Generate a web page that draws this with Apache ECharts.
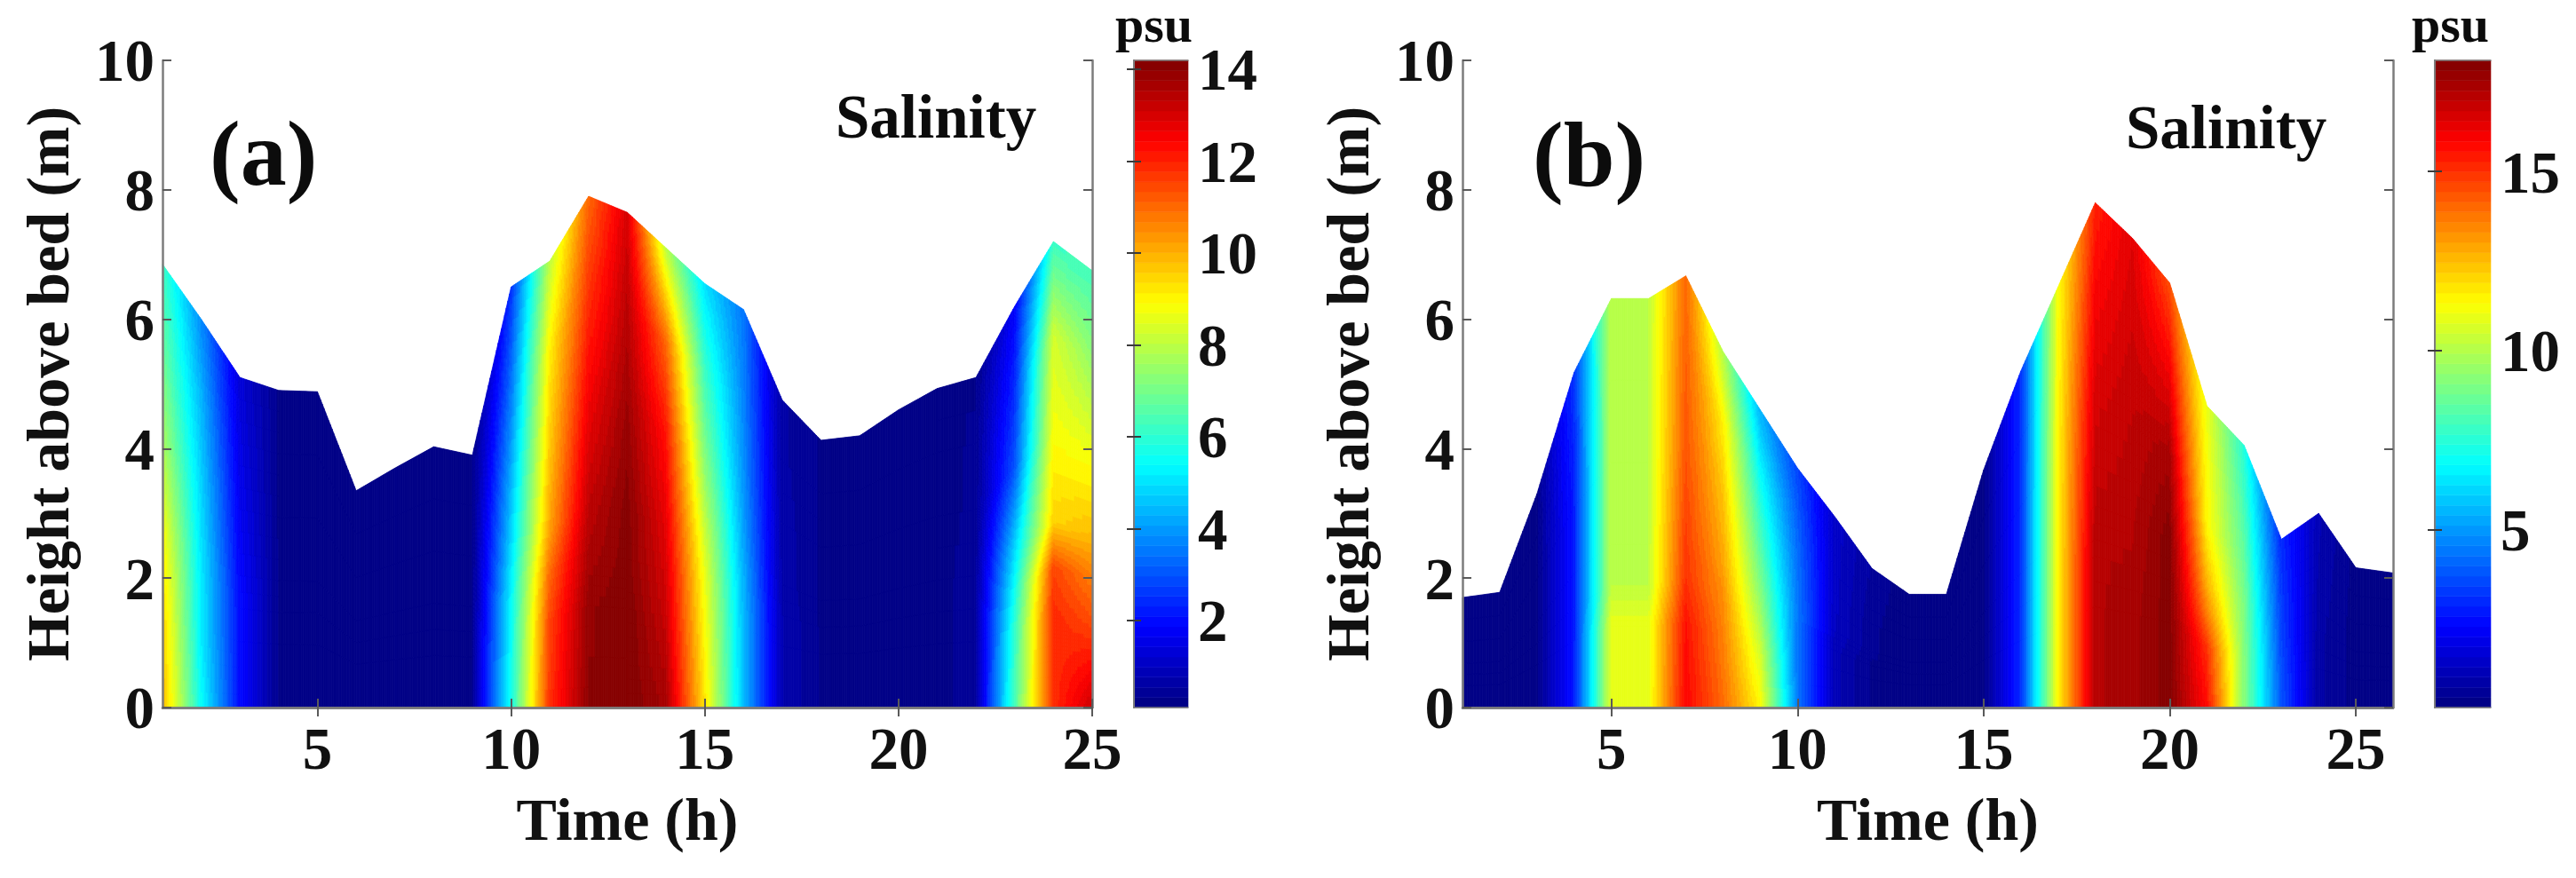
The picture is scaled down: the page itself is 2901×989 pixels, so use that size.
<!DOCTYPE html>
<html><head><meta charset="utf-8">
<style>html,body{margin:0;padding:0;background:#fff}#c{width:2901px;height:989px;filter:blur(0.6px)}</style>
<script src="https://cdn.jsdelivr.net/npm/echarts@6/dist/echarts.min.js"></script>
</head><body><div id="c"></div>
<script>
// Depth fractions of the water column at which salinity is read
const sigmaLevels = [0, 0.2, 0.3, 0.4, 0.6, 0.8, 1];

// Panel (a)
const timeA = [1,2,3,4,5,6,7,8,9,10,11,12,13,14,15,16,17,18,19,20,21,22,23,24,25];
const surfaceA = [6.85,6.0,5.1,4.9,4.88,3.35,3.7,4.03,3.9,6.5,6.9,7.9,7.65,7.1,6.55,6.15,4.75,4.13,4.2,4.6,4.93,5.1,6.2,7.2,6.75];
const salA0  = [10,5.5,2,0.3,0.2,0.2,0.2,0.2,0.3,5.6,11.8,14,14.2,13.7,9.3,4.5,0.8,0.3,0.2,0.2,0.2,0.5,6.4,11.8,13.2];
const salA20 = [9.6,5.2,2,0.3,0.2,0.2,0.2,0.2,0.3,5.4,11.5,13.9,14.2,13.2,8.9,4.5,0.8,0.3,0.2,0.2,0.2,0.5,6,11.9,11.4];
const salA30 = [9.3,5.2,2,0.3,0.2,0.2,0.2,0.2,0.3,5.2,11,13.6,14.1,13,8.7,4.4,0.8,0.3,0.2,0.2,0.2,0.5,5.5,11.5,10.7];
const salA40 = [8.9,5.1,1.9,0.3,0.2,0.2,0.2,0.2,0.3,4.8,10.2,13.3,14.1,12.8,8.3,4.2,0.7,0.3,0.2,0.2,0.2,0.5,4.8,9.5,9.8];
const salA60 = [7.8,4.8,1.7,0.3,0.2,0.2,0.2,0.2,0.3,4.1,9.6,12.6,13.8,12.2,7.2,3.9,0.7,0.3,0.2,0.2,0.2,0.4,3,8.8,8.6];
const salA80 = [6.9,4.4,1.5,0.3,0.2,0.2,0.2,0.2,0.3,3.3,9.1,11.8,13.4,11,6.2,3.7,0.6,0.3,0.2,0.2,0.2,0.4,2.4,8.3,7.4];
const salA100= [6.2,3.8,1.3,0.3,0.2,0.2,0.2,0.2,0.3,2.5,8,11,13,8,5,3.5,0.6,0.3,0.2,0.2,0.2,0.3,1.8,6.2,6.3];

// Panel (b)
const timeB = [1,2,3,4,5,6,7,8,9,10,11,12,13,14,15,16,17,18,19,20,21,22,23,24,25,26];
const surfaceB = [1.7,1.78,3.3,5.18,6.32,6.32,6.67,5.5,4.6,3.7,2.95,2.15,1.75,1.75,3.67,5.2,6.5,7.8,7.25,6.56,4.66,4.05,2.6,3.0,2.16,2.08];
const salB0  = [0.1,0.1,0.2,2.7,10.9,10.9,15.9,14,11.5,4.5,1,0.3,0.1,0.1,0.2,3,11.4,17.2,17.4,18,15.8,9.2,3.8,0.7,0.2,0.1];
const salB20 = [0.1,0.1,0.2,2.7,10.9,10.9,15.6,13.6,10.5,4.4,1,0.3,0.1,0.1,0.2,3,11.4,17.2,17.4,18,15,9.2,3.7,0.7,0.2,0.1];
const salB30 = [0.1,0.1,0.2,2.7,10.2,10.2,15,13.4,9.8,4.4,1,0.3,0.1,0.1,0.2,3,11.4,17.2,17.3,18,13.8,9.1,3.6,0.7,0.2,0.1];
const salB40 = [0.1,0.1,0.2,2.7,10.2,10.2,14.8,13,9.2,4.5,1.2,0.4,0.1,0.1,0.2,3,11.4,17,17.2,18,12.8,9,3.5,0.7,0.2,0.1];
const salB60 = [0.1,0.1,0.2,2.7,10.2,10.2,14.4,12.4,8,4.3,1.3,0.4,0.1,0.1,0.2,3,11.4,16.6,17,17.4,11.5,8.5,3.4,0.8,0.2,0.1];
const salB80 = [0.1,0.1,0.2,2.9,10.2,10.2,14.2,11.6,6.8,4,1.3,0.5,0.1,0.1,0.2,3,11.3,16,16.7,16,11.3,8,3.2,0.9,0.2,0.1];
const salB100= [0.1,0.1,0.2,3.2,10.2,10.2,14,10,5.5,3.5,1.4,0.6,0.1,0.1,0.2,3,11.2,15.3,16.4,14.5,11,7.4,3,1,0.2,0.1];

// Axis ticks
const timeTicksA = [5,10,15,20,25];
const timeTicksB = [5,10,15,20,25];
const heightTicks = [0,2,4,6,8,10];
const barTicksA = [2,4,6,8,10,12,14];
const barTicksB = [5,10,15];
const rangeA = [0.11, 14.19];
const rangeB = [0.05, 18.1];
const colorSteps = 64;

function jet(u){
  const c = x => Math.round(255*Math.max(0,Math.min(1,x)));
  const r = 1.5-Math.abs(4*u-3), g = 1.5-Math.abs(4*u-2), b = 1.5-Math.abs(4*u-1);
  return 'rgb('+c(r)+','+c(g)+','+c(b)+')';
}
function colorOf(v,range){
  let u=(v-range[0])/(range[1]-range[0]);
  u=Math.max(0,Math.min(0.9999,u));
  const k=Math.floor(u*colorSteps);
  return jet((k+0.5)/colorSteps);
}
function meshRenderer(time,surface,rows,range){
  const NX=24, band=(range[1]-range[0])/colorSteps;
  return function(params,api){
    const i=api.value(0), j=api.value(1);
    const t0=time[i],t1=time[i+1],h0=surface[i],h1=surface[i+1];
    const s0=sigmaLevels[j],s1=sigmaLevels[j+1];
    const v00=rows[j][i],v10=rows[j][i+1],v01=rows[j+1][i],v11=rows[j+1][i+1];
    const NY=Math.max(1,Math.min(24,Math.ceil(Math.max(Math.abs(v01-v00),Math.abs(v11-v10))/band*3)));
    const children=[];
    for(let a=0;a<NX;a++){
      const fa=a/NX,fb=(a+1)/NX,fm=(a+.5)/NX;
      const ta=t0+(t1-t0)*fa,tb=t0+(t1-t0)*fb;
      const ha=h0+(h1-h0)*fa,hb=h0+(h1-h0)*fb;
      for(let b=0;b<NY;b++){
        const ga=b/NY,gb=(b+1)/NY,gm=(b+.5)/NY;
        const sa=s0+(s1-s0)*ga,sb=s0+(s1-s0)*gb;
        const v=(v00*(1-fm)+v10*fm)*(1-gm)+(v01*(1-fm)+v11*fm)*gm;
        const col=colorOf(v,range);
        const pts=[api.coord([ta,ha*sa]),api.coord([tb,hb*sa]),api.coord([tb,hb*sb]),api.coord([ta,ha*sb])];
        children.push({type:'polygon',shape:{points:pts},style:{fill:col,stroke:col,lineWidth:0.8},silent:true});
      }
    }
    return {type:'group',children};
  };
}
function barRenderer(range){
  return function(params,api){
    const k=api.value(0);
    const lo=range[0]+(range[1]-range[0])*k/colorSteps, hi=range[0]+(range[1]-range[0])*(k+1)/colorSteps;
    const p0=api.coord([0,lo]),p1=api.coord([1,hi]);
    const col=jet((k+0.5)/colorSteps);
    return {type:'rect',shape:{x:p0[0],y:p1[1],width:p1[0]-p0[0],height:p0[1]-p1[1]},style:{fill:col,stroke:col,lineWidth:0.6},silent:true};
  };
}
function cells(time){
  const d=[];
  for(let i=0;i<time.length-1;i++)for(let j=0;j<sigmaLevels.length-1;j++)d.push([i,j]);
  return d;
}
const barCells=[];for(let k=0;k<colorSteps;k++)barCells.push([k]);

const FONT='"Liberation Serif"', INK='#111', EDGE='#7c7c7c', TICK='#5a5a5a';
const grids=[
  {left:183,top:68,width:1047,height:729},
  {left:1277,top:68,width:61,height:729},
  {left:1647,top:68,width:1048,height:729},
  {left:2742,top:68,width:63,height:729}
];
const lineS={show:true,lineStyle:{color:EDGE,width:2.5}};
const labelS={color:INK,fontFamily:FONT,fontWeight:'bold',fontSize:67};
const nameS={color:INK,fontFamily:FONT,fontWeight:'bold',fontSize:68};
const tickS=(ticks,len)=>({show:true,inside:true,length:len,lineStyle:{color:TICK,width:2},customValues:ticks});
function xAxes(g,min,max,ticks){
  return [
    {type:'value',gridIndex:g,min,max,position:'bottom',z:5,splitLine:{show:false},axisLine:lineS,
     axisTick:tickS(ticks,10),
     axisLabel:{...labelS,margin:18,customValues:ticks},
     name:'Time (h)',nameLocation:'middle',nameGap:97,nameTextStyle:nameS},
    {type:'value',gridIndex:g,min,max,position:'top',z:5,splitLine:{show:false},axisLine:lineS,
     axisTick:tickS(ticks,10),axisLabel:{show:false}}
  ];
}
function yAxes(g){
  return [
    {type:'value',gridIndex:g,min:0,max:10,position:'left',z:5,splitLine:{show:false},axisLine:lineS,
     axisTick:tickS(heightTicks,10),
     axisLabel:{...labelS,margin:9,verticalAlign:'top',lineHeight:12,customValues:heightTicks},
     name:'Height above bed (m)',nameLocation:'middle',nameGap:90,nameRotate:90,nameTextStyle:nameS},
    {type:'value',gridIndex:g,min:0,max:10,position:'right',z:5,splitLine:{show:false},axisLine:lineS,
     axisTick:tickS(heightTicks,10),axisLabel:{show:false}}
  ];
}
function barX(g){
  const one=pos=>({type:'value',gridIndex:g,min:0,max:1,position:pos,z:5,splitLine:{show:false},
    axisLine:{show:true,lineStyle:{color:EDGE,width:1.5}},axisTick:{show:false},axisLabel:{show:false}});
  return [one('bottom'),one('top')];
}
function barY(g,range,ticks){
  const edge={show:true,lineStyle:{color:EDGE,width:2}};
  const t={show:true,inside:true,length:8,lineStyle:{color:'#3a3a3a',width:2},customValues:ticks};
  return [
    {type:'value',gridIndex:g,min:range[0],max:range[1],position:'left',z:5,splitLine:{show:false},
     axisLine:edge,axisTick:t,axisLabel:{show:false}},
    {type:'value',gridIndex:g,min:range[0],max:range[1],position:'right',z:5,splitLine:{show:false},
     axisLine:edge,axisTick:t,axisLabel:{...labelS,margin:11,verticalAlign:'top',lineHeight:12,customValues:ticks}}
  ];
}
const xAxisAll=[...xAxes(0,1,25,timeTicksA),...barX(1),...xAxes(2,1,26,timeTicksB),...barX(3)];
const yAxisAll=[...yAxes(0),...barY(1,rangeA,barTicksA),...yAxes(2),...barY(3,rangeB,barTicksB)];
const rowsA=[salA0,salA20,salA30,salA40,salA60,salA80,salA100];
const rowsB=[salB0,salB20,salB30,salB40,salB60,salB80,salB100];
const tx=(text,left,top,size)=>({text,left,top,padding:0,textStyle:{color:'#0c0c0c',fontFamily:FONT,fontWeight:'bold',fontSize:size}});
const chart=echarts.init(document.getElementById('c'),null,{renderer:'canvas',width:2901,height:989});
chart.setOption({
  backgroundColor:'#fff',animation:false,
  title:[
    tx('(a)',236,129,104),tx('Salinity',941,103,69),tx('psu',1256,3,58),
    tx('(b)',1726,130,104),tx('Salinity',2394,115,69),tx('psu',2716,3,58)
  ],
  grid:grids,xAxis:xAxisAll,yAxis:yAxisAll,
  series:[
    {type:'custom',xAxisIndex:0,yAxisIndex:0,data:cells(timeA),renderItem:meshRenderer(timeA,surfaceA,rowsA,rangeA),silent:true,z:1},
    {type:'custom',xAxisIndex:2,yAxisIndex:2,data:barCells,renderItem:barRenderer(rangeA),silent:true,z:1},
    {type:'custom',xAxisIndex:4,yAxisIndex:4,data:cells(timeB),renderItem:meshRenderer(timeB,surfaceB,rowsB,rangeB),silent:true,z:1},
    {type:'custom',xAxisIndex:6,yAxisIndex:6,data:barCells,renderItem:barRenderer(rangeB),silent:true,z:1}
  ]
});
</script></body></html>
